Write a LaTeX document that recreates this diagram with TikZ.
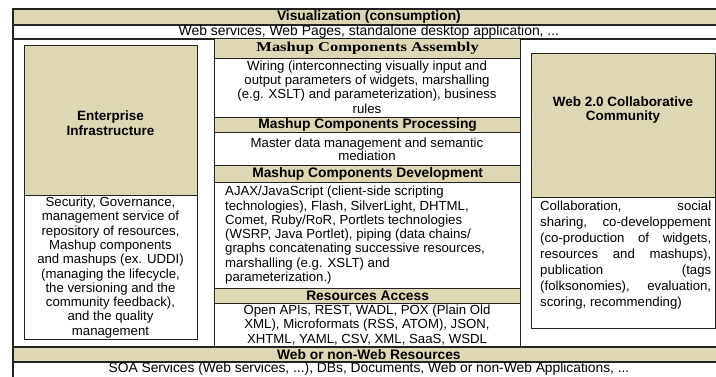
\documentclass[tikz,border=0pt]{standalone}
\usepackage{fontspec}
\setmainfont{Liberation Sans}
\newfontfamily\serifb[FakeStretch=1.22]{Liberation Serif}
\definecolor{tanfill}{RGB}{221,215,180}
\definecolor{linec}{RGB}{35,35,35}
\tikzset{
  band/.style={draw=linec, line width=1.3pt, fill=tanfill, inner sep=0pt, anchor=north west,
    font=\bfseries\fontsize{13.8}{14}\selectfont},
  whitebox/.style={draw=linec, line width=1.3pt, fill=white, inner sep=0pt, anchor=north west},
  body/.style={inner sep=0pt, align=center, font=\fontsize{13.2}{14.3}\selectfont},
  title/.style={inner sep=0pt, align=center, font=\bfseries\fontsize{13.5}{14.5}\selectfont},
}
\begin{document}
\begin{tikzpicture}[x=1pt,y=-1pt]
\useasboundingbox (0,0) rectangle (716,376);
\clip (0,0) rectangle (716,376);
\fill[white] (0,0) rectangle (716,376);
% outer frame
\node[whitebox, line width=1.8pt, minimum width=712pt, minimum height=385pt] (frame) at (12,8) {};
\node[band, line width=1.8pt, minimum width=712pt, minimum height=16pt] (vis) at (12,8) {Visualization (consumption)};
\node[whitebox, line width=1.8pt, minimum width=712pt, minimum height=14pt, font=\fontsize{13.9}{14}\selectfont] (webrow) at (12,24) {Web services, Web Pages, standalone desktop application, ...};
% Enterprise
\node[whitebox, minimum width=173pt, minimum height=294pt] (ent) at (24,45) {};
\node[band, minimum width=173pt, minimum height=150pt] (enttop) at (24,45) {};
\node[title] (enttitle) at (110.5,123) {Enterprise\\Infrastructure};
\node[body] (enttext) at (110.5,267.5) {Security, Governance,\\management service of\\repository of resources,\\Mashup components\\and mashups (ex. UDDI)\\(managing the lifecycle,\\the versioning and the\\community feedback),\\and the quality\\management};
% Web 2.0
\node[whitebox, minimum width=184pt, minimum height=275pt] (w2) at (531,53) {};
\node[band, minimum width=184pt, minimum height=144pt] (w2top) at (531,53) {};
\node[title] (w2title) at (623,110) {Web 2.0 Collaborative\\Community};
\node[body, align=left, font=\fontsize{13.2}{16}\selectfont, anchor=north west] (w2text) at (540,200.5) {%
\makebox[171pt][s]{Collaboration, social}\\
\makebox[171pt][s]{sharing, co-developpement}\\
\makebox[171pt][s]{(co-production of widgets,}\\
\makebox[171pt][s]{resources and mashups),}\\
\makebox[171pt][s]{publication (tags}\\
\makebox[171pt][s]{(folksonomies), evaluation,}\\
scoring, recommending)};
% middle column
\node[whitebox, minimum width=306pt, minimum height=308pt] (mid) at (214,38) {};
\node[band, minimum width=306pt, minimum height=20pt, font=\serifb\bfseries\fontsize{13.5}{14}\selectfont] (asmh) at (214,38) {Mashup Components Assembly};
\node[whitebox, minimum width=306pt, minimum height=59pt] (asmb) at (214,58) {};
\node[body] (asmt) at (367,87) {Wiring (interconnecting visually input and\\output parameters of widgets, marshalling\\(e.g. XSLT) and parameterization), business\\rules};
\node[band, minimum width=306pt, minimum height=15pt] (proch) at (214,117) {Mashup Components Processing};
\node[whitebox, minimum width=306pt, minimum height=33pt] (procb) at (214,132) {};
\node[body, font=\fontsize{13.2}{12.8}\selectfont] (proct) at (367,149) {Master data management and semantic\\mediation};
\node[band, minimum width=306pt, minimum height=17pt] (devh) at (214,165) {Mashup Components Development};
\node[whitebox, minimum width=306pt, minimum height=106pt] (devb) at (214,182) {};
\node[body, align=left, anchor=north west] (devt) at (225,186) {AJAX/JavaScript (client-side scripting\\technologies), Flash, SilverLight, DHTML,\\Comet, Ruby/RoR, Portlets technologies\\(WSRP, Java Portlet), piping (data chains/\\graphs concatenating successive resources,\\marshalling (e.g. XSLT) and\\parameterization.)};
\node[band, minimum width=306pt, minimum height=15pt] (acch) at (214,288) {Resources Access};
\node[whitebox, minimum width=306pt, minimum height=58pt] (accb) at (214,303) {};
\node[body] (acct) at (367,325) {Open APIs, REST, WADL, POX (Plain Old\\XML), Microformats (RSS, ATOM), JSON,\\XHTML, YAML, CSV, XML, SaaS, WSDL};
% bottom
\node[band, line width=1.8pt, minimum width=712pt, minimum height=15pt] (res) at (12,346) {Web or non-Web Resources};
\node[inner sep=0pt, font=\fontsize{13.8}{14}\selectfont] (soa) at (369,368.5) {SOA Services (Web services, ...), DBs, Documents, Web or non-Web Applications, ...};
\end{tikzpicture}
\end{document}
